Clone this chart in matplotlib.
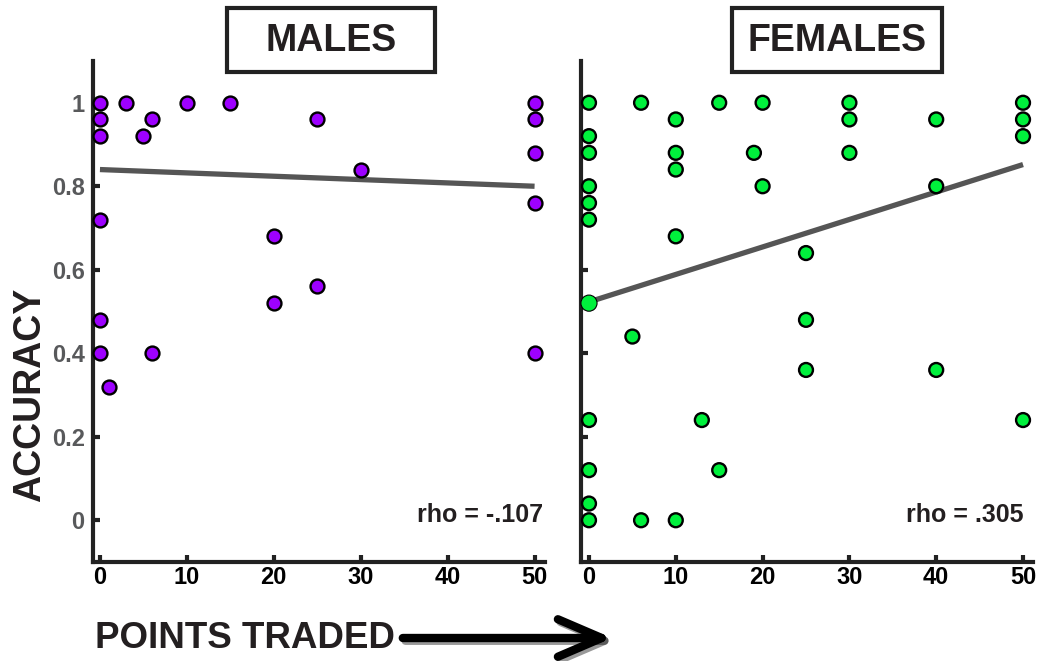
import matplotlib
matplotlib.use("Agg")
import matplotlib.pyplot as plt
import matplotlib.patheffects as pe
from matplotlib.patches import Rectangle, FancyArrowPatch

plt.rcParams["font.family"] = ["Liberation Sans", "DejaVu Sans"]
plt.rcParams["font.weight"] = "bold"

# points traded vs accuracy
male_x = [0, 3, 10, 15, 50, 0, 6, 25, 50, 0, 5, 50, 30, 50, 0, 20, 25, 20,
          0, 0, 6, 50, 1]
male_y = [1, 1, 1, 1, 1, .96, .96, .96, .96, .92, .92, .88, .84, .76, .72,
          .68, .56, .52, .48, .40, .40, .40, .32]

female_x = [0, 6, 15, 20, 30, 50, 10, 30, 40, 50, 0, 50, 0, 10, 19, 30, 10,
            0, 20, 40, 0, 0, 10, 25, 0, 25, 5, 25, 40, 0, 13, 50, 0, 15, 0,
            0, 6, 10]
female_y = [1, 1, 1, 1, 1, 1, .96, .96, .96, .96, .92, .92, .88, .88, .88,
            .88, .84, .80, .80, .80, .76, .72, .68, .64, .52, .48, .44, .36,
            .36, .24, .24, .24, .12, .12, .04, 0, 0, 0]

# regression line end points (x = 0 and x = 50)
fit_x = [0, 50]
male_fit = [0.84, 0.80]
female_fit = [0.523, 0.852]

x_ticks = [0, 10, 20, 30, 40, 50]
y_ticks = [0, 0.2, 0.4, 0.6, 0.8, 1]
y_tick_labels = ["0", "0.2", "0.4", "0.6", "0.8", "1"]
rho_labels = ["rho = -.107", "rho = .305"]
panel_titles = ["MALES", "FEMALES"]

INK = "#231f20"
AXIS = "#222222"
W, H = 1042, 661

fig = plt.figure(figsize=(W / 100, H / 100), dpi=100)
ax_m = fig.add_axes([93 / W, 1 - 562 / H, 452 / W, 501 / H])
ax_f = fig.add_axes([581 / W, 1 - 562 / H, 452 / W, 501 / H])


def style_axes(ax, xlim, show_ylabels):
    ax.set_xlim(*xlim)
    ax.set_ylim(-0.1, 1.1)
    for side in ("top", "right"):
        ax.spines[side].set_visible(False)
    for side in ("left", "bottom"):
        ax.spines[side].set_linewidth(3)
        ax.spines[side].set_color(AXIS)
    ax.set_xticks(x_ticks)
    ax.set_yticks(y_ticks)
    ax.tick_params(direction="in", length=5, width=3, color=AXIS)
    ax.tick_params(axis="x", labelsize=17, labelcolor="black", pad=3)
    if show_ylabels:
        ax.set_yticklabels(y_tick_labels)
        ax.tick_params(axis="y", labelsize=17, labelcolor="#58595b", pad=6)
    else:
        ax.tick_params(axis="y", labelleft=False)


style_axes(ax_m, (-0.8, 51.2), True)
style_axes(ax_f, (-0.92, 51.15), False)

# males
ax_m.plot(fit_x, male_fit, color="#555555", lw=3.8, solid_capstyle="butt",
          zorder=2)
ax_m.scatter(male_x, male_y, s=100, c="#9d00ff", edgecolors="black",
             linewidths=1.7, zorder=3, clip_on=False)

# females; the point sitting on the start of the line is drawn a bit larger
ax_f.plot(fit_x, female_fit, color="#555555", lw=3.8, solid_capstyle="butt",
          zorder=2)
sizes = [135 if (x, y) == (0, .52) else 100 for x, y in zip(female_x, female_y)]
edges = [0.8 if (x, y) == (0, .52) else 1.7 for x, y in zip(female_x, female_y)]
ax_f.scatter(female_x, female_y, s=sizes, c="#00f03c", edgecolors="black",
             linewidths=edges, zorder=3, clip_on=False)

ax_m.text(0.996, 0.093, rho_labels[0], transform=ax_m.transAxes, ha="right",
          va="center", fontsize=18, color=INK)
ax_f.text(0.980, 0.093, rho_labels[1], transform=ax_f.transAxes, ha="right",
          va="center", fontsize=18, color=INK)

# boxed panel titles
for title, (x0, x1) in zip(panel_titles, [(227, 435), (732, 942)]):
    fig.add_artist(Rectangle((x0 / W, 1 - 72 / H), (x1 - x0) / W, 64 / H,
                             fill=False, lw=3, edgecolor=AXIS,
                             transform=fig.transFigure))
    fig.text((x0 + x1) / 2 / W, 1 - 41 / H, title, ha="center", va="center",
             fontsize=27, color=INK)

fig.text(30 / W, 1 - 395 / H, "ACCURACY", rotation=90, ha="center",
         va="center", fontsize=27, color=INK)
fig.text(95 / W, 1 - 638 / H, "POINTS TRADED", ha="left", va="center",
         fontsize=26.5, color=INK)

arrow = FancyArrowPatch((400 / W, 1 - 638 / H), (615 / W, 1 - 638 / H),
                        transform=fig.transFigure,
                        arrowstyle="->,head_length=1.05,head_width=0.45",
                        mutation_scale=30, lw=6, color="black",
                        path_effects=[pe.SimpleLineShadow(offset=(2, -2),
                                                          alpha=0.4),
                                      pe.Normal()])
fig.add_artist(arrow)

fig.savefig("out.png", dpi=100)
